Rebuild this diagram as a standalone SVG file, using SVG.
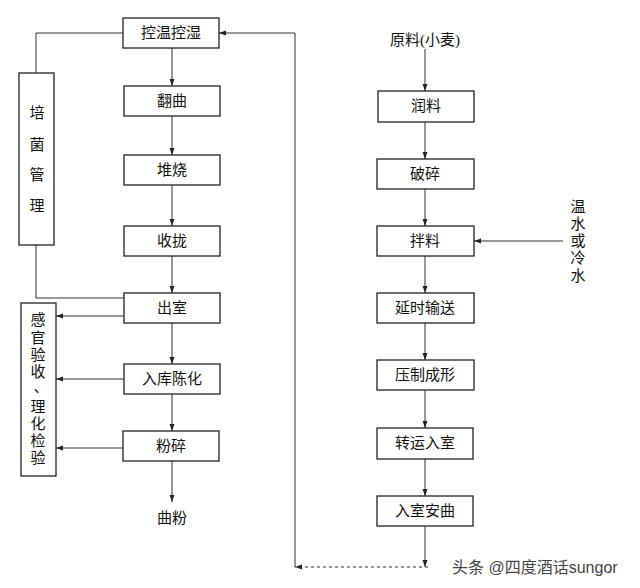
<svg xmlns="http://www.w3.org/2000/svg" width="640" height="588" viewBox="0 0 640 588">
<defs>
<marker id="ah" viewBox="0 0 10 10" refX="10" refY="5" markerWidth="7" markerHeight="7" markerUnits="userSpaceOnUse" orient="auto">
<path d="M0,1.5 L10,5 L0,8.5 Z" fill="#222"/>
</marker>
<style>
.box{fill:#fff;stroke:#222;stroke-width:1.3}
.t{font-family:"Liberation Serif","Noto Sans CJK SC",serif;font-size:15px;fill:#111;text-anchor:middle;dominant-baseline:central}
.ln{fill:none;stroke:#333;stroke-width:1}
.wm{font-family:"Liberation Sans","Noto Sans CJK SC",sans-serif;font-size:16px;fill:#444}
</style>
</defs>
<rect width="640" height="588" fill="#fff"/>
<g id="connectors">
<line class="ln" x1="172" y1="48" x2="172" y2="86" marker-end="url(#ah)"/>
<line class="ln" x1="172" y1="116" x2="172" y2="155" marker-end="url(#ah)"/>
<line class="ln" x1="172" y1="185" x2="172" y2="226" marker-end="url(#ah)"/>
<line class="ln" x1="172" y1="256" x2="172" y2="293" marker-end="url(#ah)"/>
<line class="ln" x1="172" y1="323" x2="172" y2="364" marker-end="url(#ah)"/>
<line class="ln" x1="172" y1="394" x2="172" y2="431" marker-end="url(#ah)"/>
<line class="ln" x1="172" y1="461" x2="172" y2="502" marker-end="url(#ah)"/>
<polyline class="ln" points="123,33 36,33 36,73"/>
<polyline class="ln" points="36,245 36,298 124,298"/>
<line class="ln" x1="124" y1="316" x2="56" y2="316" marker-end="url(#ah)"/>
<line class="ln" x1="124" y1="379" x2="56" y2="379" marker-end="url(#ah)"/>
<line class="ln" x1="123" y1="448" x2="56" y2="448" marker-end="url(#ah)"/>
<polyline class="ln" points="295,567 295,33 219,33" marker-end="url(#ah)"/>
<line class="ln" x1="428" y1="567" x2="295" y2="567" stroke-dasharray="3,3" marker-end="url(#ah)"/>
<line class="ln" x1="425" y1="49" x2="425" y2="91" marker-end="url(#ah)"/>
<line class="ln" x1="425" y1="122" x2="425" y2="159" marker-end="url(#ah)"/>
<line class="ln" x1="425" y1="189" x2="425" y2="226" marker-end="url(#ah)"/>
<line class="ln" x1="425" y1="256" x2="425" y2="293" marker-end="url(#ah)"/>
<line class="ln" x1="425" y1="323" x2="425" y2="360" marker-end="url(#ah)"/>
<line class="ln" x1="425" y1="390" x2="425" y2="428" marker-end="url(#ah)"/>
<line class="ln" x1="425" y1="459" x2="425" y2="496" marker-end="url(#ah)"/>
<line class="ln" x1="425" y1="526" x2="425" y2="567" marker-end="url(#ah)"/>
<line class="ln" x1="563" y1="241" x2="474" y2="241" marker-end="url(#ah)"/>
</g>
<g id="n1"><rect class="box" x="123" y="18" width="96" height="30"/><text class="t" x="171" y="33">控温控湿</text></g>
<g id="n2"><rect class="box" x="124" y="86" width="96" height="30"/><text class="t" x="172" y="101">翻曲</text></g>
<g id="n3"><rect class="box" x="124" y="155" width="96" height="30"/><text class="t" x="172" y="170">堆烧</text></g>
<g id="n4"><rect class="box" x="124" y="226" width="96" height="30"/><text class="t" x="172" y="241">收拢</text></g>
<g id="n5"><rect class="box" x="124" y="293" width="96" height="30"/><text class="t" x="172" y="308">出室</text></g>
<g id="n6"><rect class="box" x="124" y="364" width="96" height="30"/><text class="t" x="172" y="379">入库陈化</text></g>
<g id="n7"><rect class="box" x="123" y="431" width="96" height="30"/><text class="t" x="171" y="446">粉碎</text></g>
<g id="n8"><text class="t" x="172" y="518">曲粉</text></g>
<g id="n9"><rect class="box" x="19" y="73" width="35" height="172"/>
<text class="t" x="37" y="113">培</text><text class="t" x="37" y="145">菌</text><text class="t" x="37" y="175">管</text><text class="t" x="37" y="206">理</text></g>
<g id="n10"><rect class="box" x="21" y="303" width="35" height="173"/>
<text class="t" x="38" y="320">感</text><text class="t" x="38" y="338">官</text><text class="t" x="38" y="355">验</text><text class="t" x="38" y="372">收</text><text class="t" x="41" y="387">、</text><text class="t" x="38" y="407">理</text><text class="t" x="38" y="424">化</text><text class="t" x="38" y="441">检</text><text class="t" x="38" y="458">验</text></g>
<g id="r0"><text class="t" x="425" y="40">原料(小麦)</text></g>
<g id="r1"><rect class="box" x="378" y="91" width="96" height="31"/><text class="t" x="426" y="106">润料</text></g>
<g id="r2"><rect class="box" x="377" y="159" width="97" height="30"/><text class="t" x="425" y="174">破碎</text></g>
<g id="r3"><rect class="box" x="377" y="226" width="97" height="30"/><text class="t" x="425" y="241">拌料</text></g>
<g id="r4"><rect class="box" x="377" y="293" width="97" height="30"/><text class="t" x="425" y="308">延时输送</text></g>
<g id="r5"><rect class="box" x="377" y="360" width="97" height="30"/><text class="t" x="425" y="375">压制成形</text></g>
<g id="r6"><rect class="box" x="377" y="428" width="96" height="31"/><text class="t" x="425" y="443">转运入室</text></g>
<g id="r7"><rect class="box" x="377" y="496" width="96" height="30"/><text class="t" x="425" y="511">入室安曲</text></g>
<g id="r8"><text class="t" x="578" y="207">温</text><text class="t" x="578" y="224">水</text><text class="t" x="578" y="241">或</text><text class="t" x="578" y="258">冷</text><text class="t" x="578" y="276">水</text></g>
<text class="wm" x="452" y="573">头条 @四度酒话sungor</text>
</svg>
